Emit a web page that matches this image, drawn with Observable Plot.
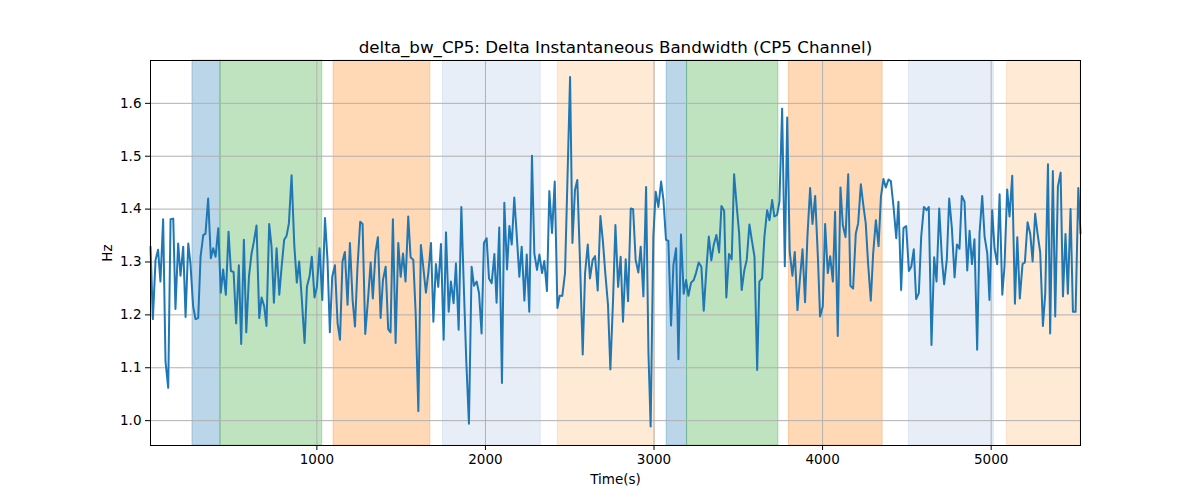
<!DOCTYPE html>
<html>
<head>
<meta charset="utf-8">
<script src="https://cdn.jsdelivr.net/npm/d3@7"></script>
<script src="https://cdn.jsdelivr.net/npm/@observablehq/plot@0.6"></script>
<style>
  html, body { margin: 0; padding: 0; background: #fff; }
  #chart { width: 1200px; height: 500px; }
  svg { font-family: "DejaVu Sans", sans-serif; }
</style>
</head>
<body>
<div id="chart"></div>
<script>
const title = "delta_bw_CP5: Delta Instantaneous Bandwidth (CP5 Channel)";
const xLabel = "Time(s)";
const yLabel = "Hz";
const xTicks = [1000, 2000, 3000, 4000, 5000];
const yTicks = [1.0, 1.1, 1.2, 1.3, 1.4, 1.5, 1.6];

const spanStart = [262, 428, 1099, 1748, 2429, 3075, 3196, 3800, 4512, 5093];
const spanEnd   = [428, 1032, 1673, 2328, 3005, 3196, 3738, 4356, 5016, 5530];
const spanColor = ["#1f77b4", "#2ca02c", "#ff7f0e", "#aec7e8", "#ffbb78",
                   "#1f77b4", "#2ca02c", "#ff7f0e", "#aec7e8", "#ffbb78"];

const time = [
  13, 27, 43, 58, 72, 88, 102, 118, 132, 148, 161, 177, 191, 207, 221, 237, 250, 266, 280, 296,
  310, 326, 339, 355, 371, 385, 399, 415, 430, 444, 460, 476, 490, 506, 521, 537, 551, 567, 581, 597,
  612, 626, 642, 658, 672, 687, 701, 717, 731, 745, 761, 777, 790, 806, 820, 834, 850, 866, 881, 895,
  911, 927, 941, 957, 970, 986, 1000, 1016, 1032, 1048, 1063, 1077, 1091, 1107, 1123, 1137, 1152, 1166, 1182, 1196,
  1212, 1226, 1241, 1257, 1271, 1287, 1303, 1319, 1332, 1348, 1362, 1378, 1392, 1408, 1423, 1437, 1451, 1467, 1483, 1497,
  1511, 1526, 1542, 1556, 1572, 1586, 1602, 1617, 1631, 1647, 1661, 1677, 1691, 1706, 1720, 1736, 1752, 1766, 1782, 1795,
  1811, 1825, 1841, 1857, 1871, 1886, 1902, 1918, 1932, 1948, 1962, 1977, 1991, 2007, 2021, 2037, 2053, 2066, 2082, 2098,
  2112, 2128, 2142, 2156, 2171, 2185, 2201, 2215, 2231, 2245, 2260, 2276, 2290, 2306, 2320, 2336, 2349, 2365, 2379, 2395,
  2411, 2427, 2440, 2456, 2472, 2486, 2502, 2516, 2531, 2545, 2561, 2577, 2591, 2607, 2620, 2636, 2650, 2666, 2682, 2696,
  2711, 2727, 2741, 2757, 2771, 2787, 2802, 2816, 2832, 2846, 2862, 2876, 2891, 2907, 2921, 2937, 2953, 2967, 2980, 2996,
  3010, 3026, 3042, 3056, 3071, 3085, 3101, 3115, 3131, 3145, 3160, 3176, 3190, 3204, 3220, 3236, 3249, 3265, 3281, 3295,
  3311, 3325, 3340, 3354, 3370, 3386, 3400, 3416, 3429, 3445, 3461, 3475, 3491, 3505, 3520, 3536, 3550, 3566, 3580, 3596,
  3612, 3625, 3641, 3655, 3671, 3685, 3701, 3714, 3730, 3744, 3760, 3776, 3790, 3805, 3821, 3835, 3851, 3865, 3881, 3896,
  3910, 3926, 3940, 3956, 3972, 3985, 4001, 4015, 4031, 4045, 4061, 4074, 4090, 4106, 4120, 4136, 4152, 4165, 4181, 4197,
  4211, 4227, 4241, 4256, 4270, 4286, 4300, 4316, 4332, 4346, 4361, 4375, 4391, 4405, 4421, 4437, 4450, 4466, 4480, 4496,
  4512, 4526, 4541, 4555, 4571, 4585, 4601, 4617, 4630, 4646, 4662, 4676, 4692, 4708, 4721, 4737, 4751, 4767, 4783, 4797,
  4812, 4826, 4842, 4858, 4872, 4886, 4901, 4917, 4931, 4947, 4961, 4977, 4990, 5006, 5020, 5036, 5050, 5066, 5079, 5095,
  5109, 5125, 5141, 5155, 5170, 5186, 5200, 5216, 5232, 5246, 5261, 5275, 5291, 5307, 5321, 5337, 5350, 5366, 5380, 5396,
  5412, 5426, 5441, 5455, 5471, 5485, 5501, 5517, 5530
];

const bw = [
  1.329, 1.192, 1.304, 1.323, 1.263, 1.381, 1.112, 1.062, 1.381, 1.382, 1.211, 1.335, 1.274, 1.329, 1.196, 1.335, 1.297, 1.216, 1.192, 1.194,
  1.310, 1.351, 1.353, 1.420, 1.307, 1.326, 1.310, 1.364, 1.242, 1.286, 1.238, 1.357, 1.283, 1.281, 1.184, 1.294, 1.145, 1.342, 1.167, 1.272,
  1.315, 1.338, 1.369, 1.194, 1.233, 1.217, 1.179, 1.372, 1.329, 1.223, 1.326, 1.238, 1.288, 1.342, 1.349, 1.373, 1.464, 1.332, 1.261, 1.301,
  1.228, 1.147, 1.253, 1.274, 1.310, 1.233, 1.253, 1.326, 1.228, 1.383, 1.304, 1.167, 1.272, 1.294, 1.184, 1.153, 1.301, 1.319, 1.219, 1.336,
  1.228, 1.178, 1.291, 1.376, 1.372, 1.164, 1.228, 1.299, 1.231, 1.319, 1.347, 1.194, 1.266, 1.291, 1.173, 1.167, 1.381, 1.147, 1.336, 1.272,
  1.316, 1.263, 1.386, 1.309, 1.304, 1.203, 1.018, 1.332, 1.291, 1.242, 1.279, 1.336, 1.187, 1.296, 1.253, 1.334, 1.153, 1.356, 1.206, 1.263,
  1.222, 1.297, 1.172, 1.404, 1.260, 1.115, 0.994, 1.291, 1.255, 1.263, 1.241, 1.165, 1.336, 1.345, 1.269, 1.260, 1.315, 1.223, 1.365, 1.071,
  1.412, 1.286, 1.368, 1.333, 1.422, 1.354, 1.272, 1.329, 1.227, 1.314, 1.206, 1.501, 1.316, 1.285, 1.314, 1.279, 1.302, 1.245, 1.434, 1.355,
  1.452, 1.213, 1.236, 1.236, 1.279, 1.450, 1.650, 1.336, 1.436, 1.455, 1.300, 1.125, 1.279, 1.333, 1.269, 1.304, 1.311, 1.246, 1.387, 1.342,
  1.279, 1.219, 1.097, 1.228, 1.370, 1.253, 1.310, 1.187, 1.305, 1.226, 1.401, 1.400, 1.304, 1.280, 1.329, 1.235, 1.442, 1.128, 0.989, 1.348,
  1.433, 1.404, 1.452, 1.417, 1.342, 1.340, 1.180, 1.294, 1.326, 1.116, 1.352, 1.240, 1.266, 1.236, 1.261, 1.266, 1.279, 1.299, 1.291, 1.208,
  1.288, 1.348, 1.303, 1.332, 1.351, 1.318, 1.406, 1.397, 1.233, 1.315, 1.305, 1.466, 1.404, 1.354, 1.247, 1.285, 1.304, 1.371, 1.342, 1.310,
  1.096, 1.263, 1.269, 1.348, 1.398, 1.379, 1.417, 1.386, 1.389, 1.414, 1.590, 1.292, 1.573, 1.319, 1.274, 1.319, 1.209, 1.266, 1.324, 1.224,
  1.348, 1.440, 1.372, 1.425, 1.310, 1.197, 1.216, 1.372, 1.279, 1.311, 1.263, 1.395, 1.160, 1.441, 1.370, 1.347, 1.466, 1.255, 1.250, 1.354,
  1.373, 1.447, 1.409, 1.373, 1.297, 1.227, 1.316, 1.379, 1.330, 1.423, 1.457, 1.441, 1.456, 1.453, 1.404, 1.345, 1.414, 1.247, 1.364, 1.368,
  1.283, 1.291, 1.324, 1.230, 1.241, 1.348, 1.404, 1.398, 1.404, 1.143, 1.309, 1.263, 1.401, 1.305, 1.258, 1.305, 1.420, 1.364, 1.271, 1.333,
  1.325, 1.425, 1.414, 1.284, 1.359, 1.296, 1.343, 1.134, 1.354, 1.425, 1.348, 1.316, 1.228, 1.398, 1.326, 1.296, 1.428, 1.238, 1.291, 1.437,
  1.386, 1.463, 1.221, 1.347, 1.231, 1.296, 1.299, 1.375, 1.353, 1.301, 1.391, 1.354, 1.318, 1.179, 1.241, 1.485, 1.165, 1.472, 1.197, 1.443,
  1.469, 1.235, 1.353, 1.240, 1.400, 1.206, 1.206, 1.440, 1.354
];

const series = time.map((t, i) => ({t, v: bw[i]}));
const spans = spanStart.map((s, i) => ({x1: s, x2: spanEnd[i], c: spanColor[i]}));

const chart = Plot.plot({
  width: 1200,
  height: 500,
  marginLeft: 150,
  marginRight: 120,
  marginTop: 60,
  marginBottom: 55,
  style: {fontFamily: "DejaVu Sans, sans-serif", fontSize: "13px", color: "#000", background: "#fff"},
  x: {domain: [13, 5530]},
  y: {domain: [0.953, 1.681]},
  marks: [
    Plot.rectX(spans, {x1: "x1", x2: "x2", fill: "c", fillOpacity: 0.3, stroke: "c", strokeOpacity: 0.3, strokeWidth: 1}),
    Plot.gridX(xTicks, {stroke: "#b0b0b0", strokeOpacity: 1, strokeWidth: 1}),
    Plot.gridY(yTicks, {stroke: "#b0b0b0", strokeOpacity: 1, strokeWidth: 1}),
    Plot.lineY(series, {x: "t", y: "v", stroke: "#1f77b4", strokeWidth: 2}),
    Plot.axisX(xTicks, {tickSize: 5, tickPadding: 4, tickFormat: d3.format("d"), label: xLabel, labelAnchor: "center", labelArrow: "none", labelOffset: 38, fontSize: 13.5}),
    Plot.axisY(yTicks, {tickSize: 5, tickPadding: 4, tickFormat: d3.format(".1f"), label: yLabel, labelAnchor: "center", labelArrow: "none", labelOffset: 48, fontSize: 13.5}),
    Plot.frame({stroke: "#000", strokeWidth: 1}),
    Plot.text([title], {frameAnchor: "top", dy: -19, fontSize: 16.7, fill: "#000"})
  ]
});
document.getElementById("chart").appendChild(chart);
</script>
</body>
</html>
